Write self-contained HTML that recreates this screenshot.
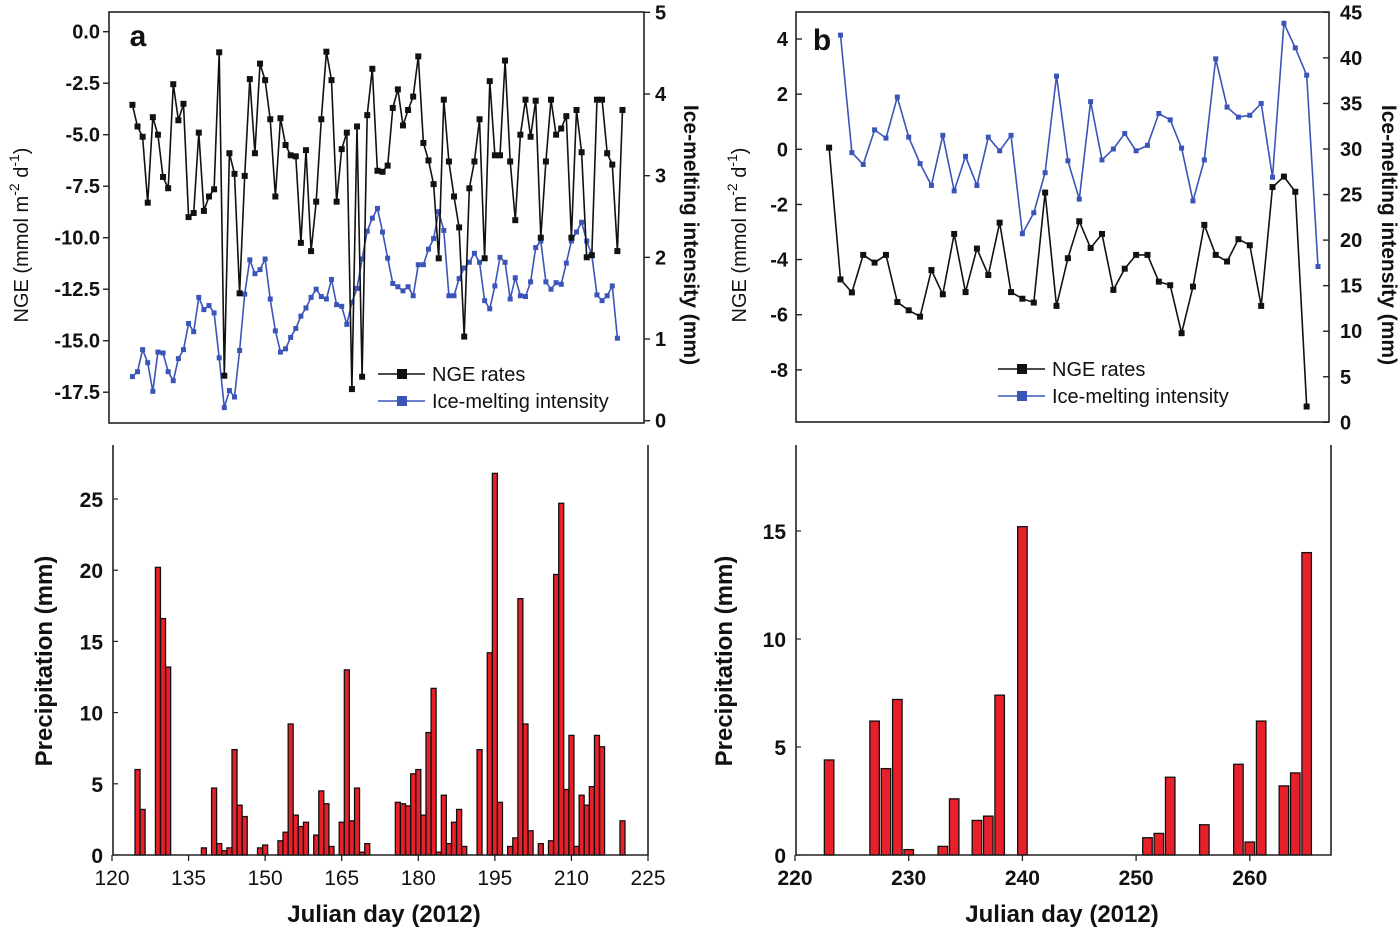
<!DOCTYPE html>
<html><head><meta charset="utf-8"><style>
html,body{margin:0;padding:0;background:#fff;}
svg{display:block;font-family:"Liberation Sans",Arial,sans-serif;}
</style></head><body>
<svg id="chart" width="1400" height="929" viewBox="0 0 1400 929"></svg>
<script>
// ---- Panel a data ----
const ngeA = [-3.55,-4.6,-5.1,-8.3,-4.15,-5.0,-7.05,-7.6,-2.55,-4.3,-3.5,-9.0,-8.8,-4.9,-8.7,-8.0,-7.65,-1.0,-16.7,-5.9,-6.9,-12.7,-7.0,-2.3,-5.9,-1.55,-2.35,-4.25,-8.0,-4.2,-5.5,-6.0,-6.05,-10.25,-5.75,-10.65,-8.25,-4.25,-0.97,-2.35,-8.25,-5.7,-4.9,-17.35,-4.6,-16.75,-4.05,-1.8,-6.75,-6.8,-6.5,-3.7,-2.8,-4.55,-3.8,-3.15,-1.2,-5.4,-6.25,-7.4,-11.0,-3.3,-6.3,-8.0,-9.5,-14.8,-7.6,-6.3,-4.25,-11.0,-2.4,-6.0,-6.0,-1.4,-6.3,-9.15,-5.0,-3.3,-5.1,-3.35,-10.0,-6.3,-3.3,-5.0,-4.7,-4.1,-10.0,-3.8,-5.85,-10.95,-10.85,-3.3,-3.3,-5.9,-6.45,-10.65,-3.8];
const iceA = [0.54,0.60,0.87,0.71,0.36,0.84,0.83,0.60,0.49,0.76,0.87,1.19,1.09,1.51,1.36,1.41,1.32,0.77,0.16,0.37,0.29,0.86,1.55,1.97,1.80,1.85,1.98,1.49,1.10,0.84,0.88,1.02,1.13,1.28,1.38,1.51,1.61,1.52,1.49,1.73,1.42,1.40,1.18,1.45,1.62,1.98,2.32,2.48,2.60,2.31,1.99,1.68,1.64,1.59,1.64,1.53,1.91,1.91,2.10,2.23,2.56,2.33,1.53,1.53,1.74,1.87,1.94,2.05,1.94,1.47,1.37,1.65,2.0,1.94,1.49,1.75,1.53,1.52,1.70,2.12,2.20,1.70,1.61,1.69,1.67,1.93,2.20,2.31,2.43,2.20,2.03,1.54,1.47,1.53,1.65,1.01];
const startDayA = 124;
const precipDaysA = [125,126,129,130,131,138,140,141,142,143,144,145,146,149,150,153,154,155,156,157,158,160,161,162,163,165,166,167,168,169,170,176,177,178,179,180,181,182,183,184,185,186,187,188,189,192,194,195,196,198,199,200,201,202,204,206,207,208,209,210,211,212,213,214,215,216,220];
const precipA = [6.0,3.2,20.2,16.6,13.2,0.5,4.7,0.8,0.3,0.5,7.4,3.5,2.7,0.5,0.7,1.0,1.6,9.2,2.8,2.0,2.3,1.4,4.5,3.6,0.6,2.3,13.0,2.4,4.7,0.2,0.8,3.7,3.6,3.45,5.7,6.0,2.8,8.6,11.7,0.2,4.2,0.8,2.3,3.2,0.6,7.4,14.2,26.8,3.7,0.6,1.2,18.0,9.2,1.7,0.8,1.0,19.7,24.7,4.6,8.4,0.6,4.2,3.5,4.8,8.4,7.6,2.4];
const ngeTicksA = ["0.0","-2.5","-5.0","-7.5","-10.0","-12.5","-15.0","-17.5"];
const iceTicksA = [0,1,2,3,4,5];
const xTicksA = [120,135,150,165,180,195,210,225];
const pTicksA = [0,5,10,15,20,25];
// ---- Panel b data ----
const ngeB = [0.06,-4.72,-5.19,-3.83,-4.11,-3.83,-5.54,-5.84,-6.07,-4.38,-5.26,-3.07,-5.18,-3.60,-4.56,-2.66,-5.18,-5.42,-5.56,-1.57,-5.68,-3.95,-2.61,-3.58,-3.07,-5.10,-4.33,-3.83,-3.83,-4.80,-4.93,-6.67,-4.98,-2.74,-3.83,-4.07,-3.26,-3.48,-5.68,-1.37,-0.99,-1.54,-9.33];
const startDayNgeB = 223;
const iceB = [42.5,29.6,28.3,32.1,31.2,35.7,31.3,28.4,26.0,31.5,25.4,29.2,26.0,31.3,29.8,31.5,20.7,23.0,27.4,38.0,28.7,24.5,35.2,28.8,30.0,31.7,29.8,30.4,33.9,33.2,30.1,24.3,28.8,39.9,34.6,33.5,33.7,35.0,26.9,43.8,41.1,38.1,17.1];
const startDayIceB = 224;
const precipDaysB = [223,227,228,229,230,233,234,236,237,238,240,251,252,253,256,259,260,261,263,264,265];
const precipB = [4.4,6.2,4.0,7.2,0.25,0.4,2.6,1.6,1.8,7.4,15.2,0.8,1.0,3.6,1.4,4.2,0.6,6.2,3.2,3.8,14.0];
const ngeTicksB = [4,2,0,-2,-4,-6,-8];
const iceTicksB = [0,5,10,15,20,25,30,35,40,45];
const xTicksB = [220,230,240,250,260];
const pTicksB = [0,5,10,15];

const svg = document.getElementById('chart');
const NS = 'http://www.w3.org/2000/svg';
function mk(tag, attrs, parent){const e=document.createElementNS(NS,tag);for(const k in attrs)e.setAttribute(k,attrs[k]);(parent||svg).appendChild(e);return e;}
function txt(s, x, y, size, anchor, parent, rot){const t=mk('text',{x:x,y:y,'font-size':size,'font-weight':'bold','text-anchor':anchor||'middle',fill:'#111'},parent);if(rot!==undefined)t.setAttribute('transform','rotate('+rot+' '+x+' '+y+')');t.textContent=s;return t;}

// scales
const xA = d => 112 + (d-120)*(648-112)/105;
const yNgeA = v => 31.7 - v*20.6;
const yIceA = v => 420.7 - v*81.67;
const yPA = v => 855 - v*14.24;
const xB = d => 795 + (d-220)*11.37;
const yNgeB = v => 149.3 - v*27.57;
const yIceB = v => 422.3 - v*9.11;
const yPB = v => 855 - v*21.6;

function seriesLine(vals, start, xf, yf, color, name, size, parent){
  const g = mk('g',{},parent);
  
  
  const pts = vals.map((v,i)=>xf(start+i).toFixed(1)+','+yf(v).toFixed(1)).join(' ');
  const pl = mk('polyline',{points:pts,fill:'none',stroke:color,'stroke-width':1.6},g);
  
  
  vals.forEach((v,i)=>{
    const r = mk('rect',{x:xf(start+i)-size/2,y:yf(v)-size/2,width:size,height:size,fill:color},g);
    
    
  });
}
function bars(days, vals, xf, yf, w, name, parent){
  const g = mk('g',{},parent);
  
  
  days.forEach((d,i)=>{
    const r = mk('rect',{x:xf(d)-w/2,y:yf(vals[i]),width:w,height:yf(0)-yf(vals[i]),fill:'#e8202a',stroke:'#111','stroke-width':1.3},g);
    
    
  });
}
function legend(x, y, parent, name){
  const g = mk('g',{},parent);
  
  
  mk('line',{x1:x,y1:y,x2:x+47,y2:y,stroke:'#111','stroke-width':1.6},g);
  mk('rect',{x:x+19,y:y-5,width:10,height:10,fill:'#111'},g);
  txt('NGE rates', x+54, y+7, 20, 'start', g).setAttribute('font-weight','normal');
  mk('line',{x1:x,y1:y+27,x2:x+47,y2:y+27,stroke:'#3a55b8','stroke-width':1.4},g);
  mk('rect',{x:x+19,y:y+22,width:10,height:10,fill:'#3a55b8'},g);
  txt('Ice-melting intensity', x+54, y+34, 20, 'start', g).setAttribute('font-weight','normal');
}

// ===== Panel a top =====
const ga = mk('g',{});


mk('rect',{x:109,y:12,width:535,height:411,fill:'none',stroke:'#222','stroke-width':1.6},ga);
ngeTicksA.forEach(s=>{const v=parseFloat(s);const y=yNgeA(v);mk('line',{x1:103,y1:y,x2:109,y2:y,stroke:'#222','stroke-width':1.4},ga);txt(s,100,y+7,20,'end',ga);});
iceTicksA.forEach(v=>{const y=yIceA(v);mk('line',{x1:644,y1:y,x2:650,y2:y,stroke:'#222','stroke-width':1.4},ga);txt(String(v),655,y+7,20,'start',ga);});
txt('a',138,46,30,'middle',ga);
const tA=mk('text',{x:28,y:235,'font-size':20,'text-anchor':'middle',fill:'#111',transform:'rotate(-90 28 235)'},ga);
tA.innerHTML='NGE (mmol m<tspan dy="-9" font-size="14">-2</tspan><tspan dy="9"> d</tspan><tspan dy="-9" font-size="14">-1</tspan><tspan dy="9">)</tspan>';
txt('Ice-melting intensity (mm)',684,235,21,'middle',ga,90);
seriesLine(iceA,startDayA,xA,yIceA,'#3a55b8','ice-melting-series-a',5,ga);
seriesLine(ngeA,startDayA,xA,yNgeA,'#111','nge-series-a',6,ga);
legend(378,374,ga,'legend-a');

// ===== Panel a bottom =====
const gab = mk('g',{});


bars(precipDaysA,precipA,xA,yPA,5,'precip-bars-a',gab);
mk('path',{d:'M113,445 V855 H648 V445',fill:'none',stroke:'#222','stroke-width':1.6},gab);
pTicksA.forEach(v=>{const y=yPA(v);mk('line',{x1:113,y1:y,x2:118,y2:y,stroke:'#222','stroke-width':1.2},gab);txt(String(v),103,y+8,21,'end',gab);});
xTicksA.forEach(d=>{const x=xA(d);mk('line',{x1:x,y1:855,x2:x,y2:861,stroke:'#222','stroke-width':1.3},gab);txt(String(d),x,885,21,'middle',gab).setAttribute('font-weight','normal');});
txt('Precipitation (mm)',52,661,24,'middle',gab,-90);
txt('Julian day (2012)',384,922,24,'middle',gab);

// ===== Panel b top =====
const gb = mk('g',{});


mk('rect',{x:796,y:12,width:533,height:410,fill:'none',stroke:'#222','stroke-width':1.6},gb);
ngeTicksB.forEach(v=>{const y=yNgeB(v);mk('line',{x1:796,y1:y,x2:802,y2:y,stroke:'#222','stroke-width':1.4},gb);txt(String(v),788,y+7,20,'end',gb);});
iceTicksB.forEach(v=>{const y=yIceB(v);mk('line',{x1:1323,y1:y,x2:1329,y2:y,stroke:'#222','stroke-width':1.4},gb);txt(String(v),1340,y+7,20,'start',gb);});
txt('b',822,50,30,'middle',gb);
const tB=mk('text',{x:746,y:235,'font-size':20,'text-anchor':'middle',fill:'#111',transform:'rotate(-90 746 235)'},gb);
tB.innerHTML='NGE (mmol m<tspan dy="-9" font-size="14">-2</tspan><tspan dy="9"> d</tspan><tspan dy="-9" font-size="14">-1</tspan><tspan dy="9">)</tspan>';
txt('Ice-melting intensity (mm)',1382,235,21,'middle',gb,90);
seriesLine(iceB,startDayIceB,xB,yIceB,'#3a55b8','ice-melting-series-b',5,gb);
seriesLine(ngeB,startDayNgeB,xB,yNgeB,'#111','nge-series-b',6,gb);
legend(998,369,gb,'legend-b');

// ===== Panel b bottom =====
const gbb = mk('g',{});


bars(precipDaysB,precipB,xB,yPB,9.5,'precip-bars-b',gbb);
mk('path',{d:'M796,445 V855 H1331 V445',fill:'none',stroke:'#222','stroke-width':1.6},gbb);
pTicksB.forEach(v=>{const y=yPB(v);mk('line',{x1:796,y1:y,x2:801,y2:y,stroke:'#222','stroke-width':1.2},gbb);txt(String(v),786,y+8,21,'end',gbb);});
xTicksB.forEach(d=>{const x=xB(d);mk('line',{x1:x,y1:855,x2:x,y2:861,stroke:'#222','stroke-width':1.3},gbb);txt(String(d),x,885,21,'middle',gbb);});
txt('Precipitation (mm)',732,661,24,'middle',gbb,-90);
txt('Julian day (2012)',1062,922,24,'middle',gbb);
</script>
</body></html>
